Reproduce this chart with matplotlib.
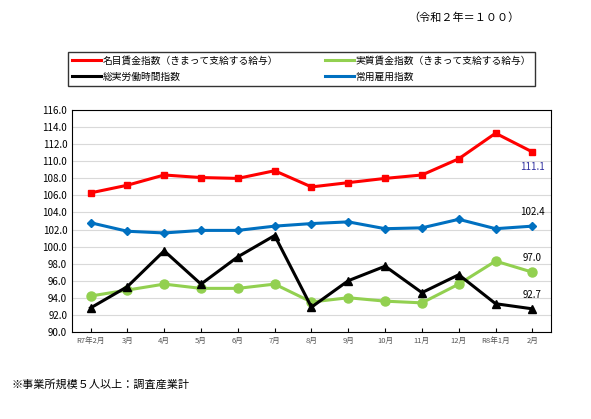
import matplotlib
matplotlib.use("Agg")
import matplotlib.pyplot as plt

plt.rcParams['font.family'] = ['Noto Sans CJK JP', 'DejaVu Sans']

months = ["R7年2月","3月","4月","5月","6月","7月","8月","9月","10月","11月","12月","R8年1月","2月"]
nominal = [106.3,107.2,108.4,108.1,108.0,108.9,107.0,107.5,108.0,108.4,110.3,113.3,111.1]
real = [94.2,94.9,95.6,95.1,95.1,95.6,93.5,94.0,93.6,93.4,95.6,98.3,97.0]
hours = [92.8,95.3,99.5,95.6,98.8,101.3,92.9,96.0,97.7,94.6,96.7,93.3,92.7]
employ = [102.8,101.8,101.6,101.9,101.9,102.4,102.7,102.9,102.1,102.2,103.2,102.1,102.4]

fig = plt.figure(figsize=(5.91,4.19), dpi=100)
ax = fig.add_axes([0.122,0.208,0.81,0.529])
x = range(len(months))
l1, = ax.plot(x, nominal, color='#ff0000', lw=2.2, marker='s', ms=4.5, label='名目賃金指数（きまって支給する給与）')
l2, = ax.plot(x, real, color='#92d050', lw=2.2, marker='o', ms=6.5, label='実質賃金指数（きまって支給する給与）')
l3, = ax.plot(x, hours, color='#000000', lw=2.2, marker='^', ms=6, label='総実労働時間指数')
l4, = ax.plot(x, employ, color='#0070c0', lw=2.2, marker='D', ms=4.5, label='常用雇用指数')
ax.set_xlim(-0.5, 12.5)
ax.set_ylim(90, 116)
ax.set_yticks([90+2*i for i in range(14)])
ax.set_yticklabels([f"{90+2*i:.1f}" for i in range(14)], fontsize=7)
ax.set_xticks(list(x))
ax.set_xticklabels(months, fontsize=5.5, color='#555555')
ax.tick_params(axis='x', length=3, direction='in')
ax.tick_params(axis='y', length=0)
ax.grid(axis='y', color='#d9d9d9', lw=0.8)
ax.set_axisbelow(True)
for s in ax.spines.values():
    s.set_color('black')
ax.annotate(f"{nominal[-1]:.1f}", (12, nominal[-1]), xytext=(0,-13), textcoords='offset points', ha='center', fontsize=7, color='#3030a0')
ax.annotate(f"{employ[-1]:.1f}", (12, employ[-1]), xytext=(0,8), textcoords='offset points', ha='center', fontsize=7)
ax.annotate(f"{real[-1]:.1f}", (12, real[-1]), xytext=(0,8), textcoords='offset points', ha='center', fontsize=7)
ax.annotate(f"{hours[-1]:.1f}", (12, hours[-1]), xytext=(0,8), textcoords='offset points', ha='center', fontsize=7)

leg = fig.legend(handles=[l1,l3,l2,l4], loc='upper left', bbox_to_anchor=(68/591, 1-93/419, 467/591, 41/419),
                 mode='expand', ncol=2, fontsize=7, frameon=True, fancybox=False, edgecolor='black',
                 handlelength=3, borderaxespad=0, labelspacing=0.6, handletextpad=0.2, borderpad=0.4)
for h in leg.legend_handles:
    h.set_marker('')
fig.text(0.69, 1-18/419, "（令和２年＝１００）", fontsize=8, va='center')
fig.text(0.02, 1-384/419, "※事業所規模５人以上：調査産業計", fontsize=8, va='center')
fig.savefig("out.png", dpi=100)
